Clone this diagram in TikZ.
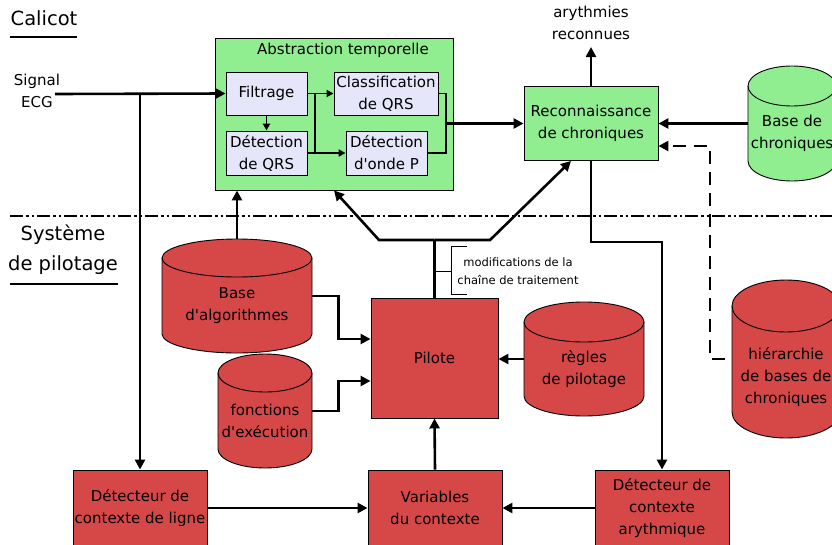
\documentclass[tikz,border=0pt]{standalone}
\usepackage{fontspec}
\setmainfont{DejaVu Sans}
\usetikzlibrary{arrows.meta}

\definecolor{calgreen}{RGB}{144,238,144}
\definecolor{pilred}{RGB}{214,71,72}
\definecolor{sublav}{RGB}{230,230,250}

\newcommand{\apo}{\textquotesingle}

% storage drum: name, cx, cy, width, height, bulge, text shift, fill, text
\newcommand{\database}[9]{%
  \filldraw[line width=0.9pt, fill=#8]
    ({#2-#4/2},{#3-#5/2+#6}) arc[start angle=180, end angle=360, x radius={#4/2}, y radius=#6]
    -- ({#2+#4/2},{#3+#5/2-#6}) arc[start angle=0, end angle=180, x radius={#4/2}, y radius=#6]
    -- cycle;
  \draw[line width=0.9pt] ({#2-#4/2},{#3-#5/2+#6}) arc[start angle=180, end angle=0, x radius={#4/2}, y radius=#6];
  \node[inner sep=0pt, minimum width=#4pt, minimum height=#5pt] (#1) at (#2,#3) {};
  \node[txt] (#1text) at (#2,{#3+#7}) {#9};
}

\begin{document}
\begin{tikzpicture}[x=1pt, y=-1pt,
    txt/.style={font=\fontsize{15}{22}\selectfont, align=center, inner sep=0pt},
    greenbox/.style={txt, draw, line width=0.9pt, fill=calgreen},
    lavbox/.style={txt, draw, line width=0.9pt, fill=sublav},
    redbox/.style={txt, draw, line width=0.9pt, fill=pilred},
    wire/.style={line width=2.6pt},
    thinwire/.style={line width=1.8pt},
    link/.style={wire, -{Triangle[length=10pt,width=10pt]}},
    smalllink/.style={thinwire, -{Triangle[length=7pt,width=7pt]}},
    dashlink/.style={link, dash pattern=on 13pt off 8pt},
    sepline/.style={line width=2pt, dash pattern=on 13pt off 3pt on 2.5pt off 3pt on 2.5pt off 3pt},
    bigtitle/.style={txt, font=\fontsize{19.5}{30}\selectfont}]
  \clip (0,0) rectangle (832,544);

  % the two halves
  \draw[sepline] (10,216) -- (832,216);
  \node[bigtitle] (calicot) at (44,18) {Calicot};
  \draw[line width=1.2pt] (10,37) -- (77,37);
  \node[bigtitle] (pilotage) at (63,250) {Système\\de pilotage};
  \draw[line width=1.2pt] (10,284) -- (118,284);

  % Calicot
  \node[greenbox, minimum width=238pt, minimum height=152pt] (abstr) at (334,114) {};
  \node[txt] (abstrtitle) at (343,50) {Abstraction temporelle};
  \node[lavbox, minimum width=81pt, minimum height=43pt] (filt) at (266.5,93.5) {Filtrage};
  \node[lavbox, minimum width=104pt, minimum height=43pt] (classif) at (386,93.5) {Classification\\de QRS};
  \node[lavbox, minimum width=81pt, minimum height=44pt] (detqrs) at (266.5,153) {Détection\\de QRS};
  \node[lavbox, minimum width=81pt, minimum height=44pt] (detp) at (386.5,153) {Détection\\d\apo onde P};
  \node[greenbox, minimum width=134pt, minimum height=74pt] (reco) at (591,123.5) {Reconnaissance\\de chroniques};
  \node[txt] (arythmies) at (591,23) {arythmies\\reconnues};
  \node[txt] (signal) at (37,91) {Signal\\ECG};
  \database{basechro}{792}{123.5}{88}{115}{20}{10}{calgreen}{Base de\\chroniques}

  % pilotage
  \database{algo}{237}{296}{150}{114}{19}{10}{pilred}{Base\\d\apo algorithmes}
  \database{fonct}{265}{411}{94}{114}{19}{10}{pilred}{fonctions\\d\apo exécution}
  \database{regles}{584}{359}{120}{114}{20}{10}{pilred}{règles\\de pilotage}
  \database{hier}{786}{359}{108}{158}{26}{18}{pilred}{hiérarchie\\de bases de\\chroniques}
  \node[redbox, minimum width=127pt, minimum height=120pt] (pilote) at (434.5,358) {Pilote};
  \node[redbox, minimum width=134pt, minimum height=76pt] (detligne) at (140,508) {Détecteur de\\contexte de ligne};
  \node[redbox, minimum width=134pt, minimum height=76pt] (vars) at (435,508) {Variables\\du contexte};
  \node[redbox, minimum width=134pt, minimum height=76pt] (detaryth) at (662,508) {Détecteur de\\contexte\\arythmique};
  \node[txt, font=\fontsize{11.5}{18}\selectfont] (modif) at (518,271) {modifications de la\\chaîne de traitement};

  \coordinate (ecgin) at (55,94);
  \coordinate (split) at (140,94);
  \coordinate (fork) at (315,94);
  \coordinate (merge) at (446,123.5);
  \coordinate (bendL) at (379,240);
  \coordinate (bendR) at (490,240);
  \coordinate (arturn) at (662,242);
  \coordinate (dashturn) at (710,146);

  % signal path
  \draw[link] (ecgin) -- (filt.west);
  \draw[link] (split) -- (detligne.north);
  \draw[smalllink] (filt.south) -- (detqrs.north);
  \draw[smalllink] (filt.east) -- (classif.west);
  \draw[smalllink] (fork) |- (detp.west);
  \draw[thinwire] (detqrs.east) -- (detqrs.east -| fork);
  \draw[thinwire] (classif.east) -| (merge);
  \draw[thinwire] (detp.east) -| (merge);
  \draw[link] (merge) -- (reco.west);
  \draw[link, shorten >=7pt] (reco.north) -- (arythmies.south);
  \draw[link] (basechro.west) -- (reco.east);
  \draw[dashlink] ([xshift=-7pt]hier.west) -| (dashturn) -- (dashturn -| reco.east);

  % pilote
  \draw[link] (algo.north) -- (algo.north |- abstr.south);
  \draw[link] (algo.east) -- ++(26,0) |- ([yshift=19pt]pilote.west);
  \draw[link] (fonct.east) -- ++(26,0) |- ([yshift=-23pt]pilote.west);
  \draw[link] (regles.west) -- (regles.west -| pilote.east);
  \draw[wire] (pilote.north) -- (bendL -| pilote.north);
  \draw[link] (bendL -| pilote.north) -- (bendL) -- (abstr.south);
  \draw[link] (bendL -| pilote.north) -- (bendR) -- ([xshift=-20pt]reco.south);
  \draw[link] (reco.south) |- (arturn) -- (detaryth.north);
  \draw[link] (vars.north) -- (pilote.south);
  \draw[link] (detligne.east) -- (vars.west);
  \draw[link] (detaryth.west) -- (vars.east);

  % bracket of the label
  \draw[line width=1pt] (467,246) -- (451,246) -- (451,294) -- (467,294);
  \draw[line width=1pt] (pilote.north |- modif.west) -- (451,271);
\end{tikzpicture}
\end{document}
